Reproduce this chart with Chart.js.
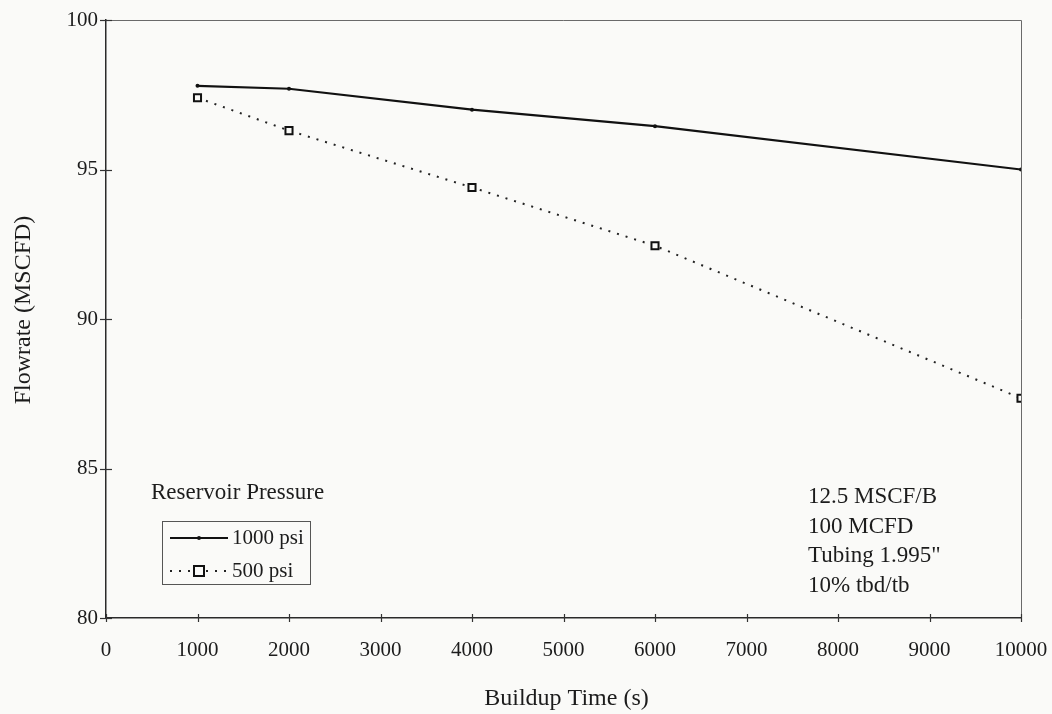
<!DOCTYPE html>
<html>
<head>
<meta charset="utf-8">
<script src="https://cdn.jsdelivr.net/npm/chart.js@4/dist/chart.umd.min.js"></script>
<style>
  html, body { margin: 0; padding: 0; background: #fafaf8; }
  #wrap { width: 1052px; height: 714px; }
</style>
</head>
<body>
<div id="wrap"><canvas id="c" width="1052" height="714"></canvas></div>
<script>
// Buildup time (s) at which flowrate was computed
const buildupTimes = [1000, 2000, 4000, 6000, 10000];
// Flowrate (MSCFD) for each reservoir pressure
const flow1000psi = [97.8, 97.7, 97.0, 96.45, 95.0];
const flow500psi  = [97.4, 96.3, 94.4, 92.45, 87.35];
const seriesNames = ['1000 psi', '500 psi'];
const legendTitle = 'Reservoir Pressure';
const noteLines = ['12.5 MSCF/B', '100 MCFD', 'Tubing 1.995"', '10% tbd/tb'];
const xTitle = 'Buildup Time (s)';
const yTitle = 'Flowrate (MSCFD)';

const FONT = '"Liberation Serif", "Times New Roman", serif';
const INK = '#1c1c1c';

function toPoints(xs, ys) { return xs.map((x, i) => ({ x: x, y: ys[i] })); }

// Frame, crossing ticks, legend box, notes and axis titles
const decor = {
  id: 'decor',
  beforeDatasetsDraw(chart) {
    const { ctx, chartArea: a } = chart;
    ctx.save();
    ctx.strokeStyle = '#6a6a6a';
    ctx.lineWidth = 1;
    ctx.beginPath();
    ctx.moveTo(a.left, a.top + 0.5); ctx.lineTo(a.right + 0.5, a.top + 0.5);
    ctx.lineTo(a.right + 0.5, a.bottom);
    ctx.stroke();
    ctx.restore();
  },
  afterDraw(chart) {
    const { ctx, chartArea: a, scales } = chart;
    ctx.save();
    // ticks that cross the axis lines
    ctx.strokeStyle = '#333';
    ctx.lineWidth = 1.2;
    scales.y.ticks.forEach(t => {
      const py = Math.round(scales.y.getPixelForValue(t.value)) + 0.5;
      ctx.beginPath(); ctx.moveTo(a.left - 6, py); ctx.lineTo(a.left + 6, py); ctx.stroke();
    });
    scales.x.ticks.forEach(t => {
      const px = Math.round(scales.x.getPixelForValue(t.value)) + 0.5;
      ctx.beginPath(); ctx.moveTo(px, a.bottom - 4); ctx.lineTo(px, a.bottom + 4); ctx.stroke();
    });

    ctx.fillStyle = INK;
    ctx.textBaseline = 'middle';

    // axis titles
    ctx.font = '24px ' + FONT;
    ctx.textAlign = 'center';
    ctx.fillText(xTitle, (a.left + a.right) / 2 + 3, 699);
    ctx.save();
    ctx.translate(24, (a.top + a.bottom) / 2 - 9);
    ctx.rotate(-Math.PI / 2);
    ctx.fillText(yTitle, 0, 0);
    ctx.restore();

    // legend
    const lx = a.left + 56;
    ctx.textAlign = 'left';
    ctx.font = '23px ' + FONT;
    ctx.fillText(legendTitle, lx - 11, 493);
    ctx.font = '21px ' + FONT;
    ctx.strokeStyle = '#555';
    ctx.lineWidth = 1;
    ctx.strokeRect(lx + 0.5, 521.5, 148, 63);
    const ds = chart.data.datasets;
    const rows = [538, 571];
    rows.forEach((ry, i) => {
      const d = ds[i];
      ctx.save();
      ctx.strokeStyle = d.borderColor;
      ctx.lineWidth = d.borderWidth;
      ctx.setLineDash(d.borderDash || []);
      ctx.beginPath(); ctx.moveTo(lx + 8, ry); ctx.lineTo(lx + 66, ry); ctx.stroke();
      ctx.setLineDash([]);
      const mx = lx + 37;
      if (d.pointStyle === 'rect') {
        const r = d.pointRadius;
        ctx.fillStyle = d.pointBackgroundColor;
        ctx.fillRect(mx - r, ry - r, 2 * r, 2 * r);
        ctx.lineWidth = d.pointBorderWidth;
        ctx.strokeStyle = d.pointBorderColor;
        ctx.strokeRect(mx - r, ry - r, 2 * r, 2 * r);
      } else {
        ctx.fillStyle = d.pointBackgroundColor;
        ctx.beginPath(); ctx.arc(mx, ry, d.pointRadius, 0, Math.PI * 2); ctx.fill();
      }
      ctx.restore();
      ctx.fillText(seriesNames[i], lx + 70, ry);
    });

    // conditions note
    ctx.font = '23px ' + FONT;
    noteLines.forEach((s, i) => ctx.fillText(s, a.left + 702, 497 + i * 29.5));
    ctx.restore();
  }
};

new Chart(document.getElementById('c'), {
  type: 'line',
  data: {
    datasets: [
      {
        label: seriesNames[0],
        data: toPoints(buildupTimes, flow1000psi),
        borderColor: '#111',
        borderWidth: 2.2,
        pointRadius: 2,
        pointStyle: 'circle',
        pointBackgroundColor: '#111',
        pointBorderColor: '#111',
        pointBorderWidth: 0,
        tension: 0
      },
      {
        label: seriesNames[1],
        data: toPoints(buildupTimes, flow500psi),
        borderColor: '#222',
        borderWidth: 2,
        borderDash: [2, 7],
        pointStyle: 'rect',
        pointRadius: 5,
        pointBackgroundColor: '#fafaf8',
        pointBorderColor: '#111',
        pointBorderWidth: 2,
        tension: 0
      }
    ]
  },
  options: {
    responsive: false,
    animation: false,
    devicePixelRatio: 1,
    layout: { padding: { left: 0, top: 20, right: 31, bottom: 0 } },
    plugins: { legend: { display: false }, tooltip: { enabled: false } },
    scales: {
      x: {
        type: 'linear',
        min: 0, max: 10000,
        ticks: {
          stepSize: 1000, color: INK, font: { family: FONT, size: 21 }, padding: 14, maxRotation: 0,
          callback: v => String(v)
        },
        grid: { drawOnChartArea: false, tickLength: 6, tickColor: 'rgba(0,0,0,0)' },
        border: { color: '#2a2a2a', width: 1.5 },
        afterFit(s) { s.height = 96; s.paddingLeft = 0; s.paddingRight = 0; }
      },
      y: {
        min: 80, max: 100,
        ticks: { stepSize: 5, color: INK, font: { family: FONT, size: 21 }, padding: 2 },
        grid: { drawOnChartArea: false, tickLength: 6, tickColor: 'rgba(0,0,0,0)' },
        border: { color: '#2a2a2a', width: 1.5 },
        afterFit(s) { s.width = 106; s.paddingTop = 0; s.paddingBottom = 0; }
      }
    }
  },
  plugins: [decor]
});
</script>
</body>
</html>
